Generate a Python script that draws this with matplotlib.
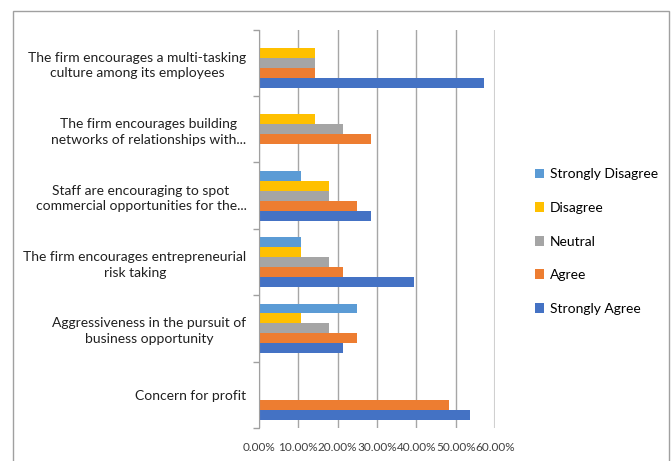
import numpy as np
import matplotlib
matplotlib.use("Agg")
import matplotlib.pyplot as plt
from matplotlib.patches import Rectangle
from matplotlib.ticker import FuncFormatter

plt.rcParams['font.family'] = ['Lato', 'DejaVu Sans']

categories = [
    "The firm encourages a multi-tasking\nculture among its employees",
    "The firm encourages building\nnetworks of relationships with...",
    "Staff are encouraging to spot\ncommercial opportunities for the...",
    "The firm encourages entrepreneurial\nrisk taking",
    "Aggressiveness in the pursuit of\nbusiness opportunity",
    "Concern for profit",
]

# values in percent, one list per series (same order as categories, top to bottom)
strongly_disagree = [0, 0, 10.71, 10.71, 25.00, 0]
disagree = [14.29, 14.29, 17.86, 10.71, 10.71, 0]
neutral = [14.29, 21.43, 17.86, 17.86, 17.86, 0]
agree = [14.29, 28.57, 25.00, 21.43, 25.00, 48.21]
strongly_agree = [57.14, 0, 28.57, 39.29, 21.43, 53.57]

series_names = ["Strongly Disagree", "Disagree", "Neutral", "Agree", "Strongly Agree"]
series_vals = [strongly_disagree, disagree, neutral, agree, strongly_agree]
colors = ["#5B9BD5", "#FFC000", "#A5A5A5", "#ED7D31", "#4472C4"]

fig = plt.figure(figsize=(6.72, 4.61), dpi=100)
ax = fig.add_axes([259 / 672, 1 - 428 / 461, (495 - 259) / 672, (428 - 29.7) / 461])

y = np.arange(len(categories))
h = 0.15
offsets = [-0.3, -0.15, 0, 0.15, 0.3]
for name, vals, c, off in zip(series_names, series_vals, colors, offsets):
    ax.barh(y + off, np.array(vals) / 100, height=h, color=c, label=name, zorder=3)

ax.set_xlim(0, 0.6)
ax.set_ylim(len(categories) - 0.5, -0.5)
ax.set_xticks(np.arange(0, 0.61, 0.1))
ax.xaxis.set_major_formatter(FuncFormatter(lambda v, p: f"{v * 100:.2f}%"))
ax.tick_params(axis='x', length=0, labelsize=8.5, pad=10, colors='#404040')

ax.set_yticks(y)
ax.set_yticklabels(categories, fontsize=10, color='#202020', multialignment='center',
                   linespacing=1.35)
ax.tick_params(axis='y', which='major', length=0, pad=9)
ax.set_yticks(np.arange(-0.5, len(categories), 1), minor=True)
ax.tick_params(axis='y', which='minor', length=4, color='#a0a0a0', width=1)

ax.grid(axis='x', color='#a6a6a6', lw=1, zorder=0)
gl = ax.get_xgridlines()
gl[-1].set_color('#d0d0d0')
gl[-1].set_linewidth(1.5)
for s in ['top', 'right', 'bottom']:
    ax.spines[s].set_visible(False)
ax.spines['left'].set_color('#a0a0a0')
ax.spines['left'].set_zorder(4)

fig.legend(loc='upper left', bbox_to_anchor=(522 / 672, 1 - 156 / 461),
           frameon=False, fontsize=10, handlelength=0.7, handleheight=0.7,
           handletextpad=0.4, labelspacing=1.55)

fig.add_artist(Rectangle((13 / 672, -0.05), (669 - 13) / 672, 1 - 11 / 461 + 0.05,
                         transform=fig.transFigure, fill=False, edgecolor='#a0a0a0', lw=1))

fig.savefig("out.png", dpi=100)
